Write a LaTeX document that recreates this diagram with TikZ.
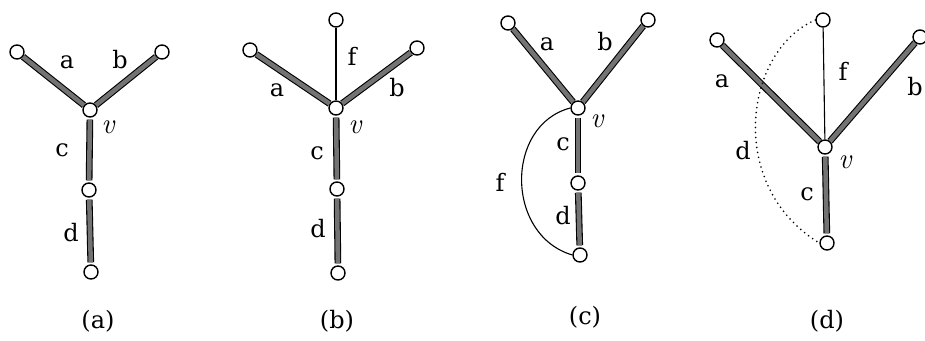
\documentclass[tikz,border=0pt]{standalone}
\usepackage{fontspec}
\setmainfont{DejaVu Serif}
\newfontfamily\lmfont{Latin Modern Roman}
\begin{document}
\begin{tikzpicture}[x=1pt,y=-1pt,
  vtx/.style={circle,draw=black,fill=white,line width=1.4pt,minimum size=14pt,inner sep=0pt},
  heavy/.style={draw=black,line width=1.1pt,double=black!55,double distance=4.5pt},
  light/.style={draw=black,line width=1.1pt},
  dotedge/.style={draw=black,line width=1.8pt,dash pattern=on 0pt off 5pt,line cap=round},
  lab/.style={font=\fontsize{24}{27}\selectfont,inner sep=0pt},
  vlab/.style={font=\lmfont\itshape\fontsize{29}{32}\selectfont,inner sep=0pt},
  gap/.style={shorten <=2pt,shorten >=2pt}]
\useasboundingbox (0,0) rectangle (925,340);
% (a)
\node[vtx] (a1) at (17,52) {};
\node[vtx] (a2) at (162,52) {};
\node[vtx] (av) at (90,110) {};
\node[vtx] (am) at (89,190) {};
\node[vtx] (ab) at (91,272) {};
\draw[heavy] (a1) -- (av);
\draw[heavy] (a2) -- (av);
\draw[heavy,gap] (av) -- (am);
\draw[heavy,gap] (am) -- (ab);
\node[lab] (la) at (67,62) {a};
\node[lab] (lb) at (120,60) {b};
\node[vlab] (lv) at (108,127) {v};
\node[lab] (lc) at (62,150) {c};
\node[lab] (ld) at (71,233) {d};
\node[lab] (ca) at (98,321) {(a)};
% (b)
\node[vtx] (bt) at (336,20) {};
\node[vtx] (b1) at (250,50) {};
\node[vtx] (b2) at (417,48) {};
\node[vtx] (bv) at (336,108) {};
\node[vtx] (bm) at (337,189) {};
\node[vtx] (bb) at (338,273) {};
\draw[light] (bt) -- (bv);
\draw[heavy] (b1) -- (bv);
\draw[heavy] (b2) -- (bv);
\draw[heavy,gap] (bv) -- (bm);
\draw[heavy,gap] (bm) -- (bb);
\node[lab] (lbf) at (352,56) {f};
\node[lab] (lba) at (277,90) {a};
\node[lab] (lbb) at (397,88) {b};
\node[vlab] (lbv) at (355,127) {v};
\node[lab] (lbc) at (317,153) {c};
\node[lab] (lbd) at (318,229) {d};
\node[lab] (cb) at (337,321) {(b)};
% (c)
\node[vtx] (c1) at (508,23) {};
\node[vtx] (c2) at (648,20) {};
\node[vtx] (cv) at (578,108) {};
\node[vtx] (cm) at (578,183) {};
\node[vtx] (cb2) at (580,255) {};
\draw[heavy] (c1) -- (cv);
\draw[heavy] (c2) -- (cv);
\draw[heavy,gap] (cv) -- (cm);
\draw[heavy,gap] (cm) -- (cb2);
\draw[light] (cv.west) .. controls (505,125) and (505,235) .. (cb2.west);
\node[lab] (lca) at (547,44) {a};
\node[lab] (lcb) at (605,42) {b};
\node[vlab] (lcv) at (597,121) {v};
\node[lab] (lcc) at (563,144) {c};
\node[lab] (lcf) at (500,182) {f};
\node[lab] (lcd) at (563,216) {d};
\node[lab] (cc) at (585,317) {(c)};
% (d)
\node[vtx] (dt) at (823,20) {};
\node[vtx] (d1) at (717,40) {};
\node[vtx] (d2) at (920,37) {};
\node[vtx] (dv) at (825,147) {};
\node[vtx] (db) at (827,243) {};
\draw[light] (dt) -- (dv);
\draw[heavy] (d1) -- (dv);
\draw[heavy] (d2) -- (dv);
\draw[heavy,gap] (dv) -- (db);
\draw[dotedge] (dt.west) .. controls (745,50) and (725,185) .. (db.west);
\node[lab] (lda) at (722,81) {a};
\node[lab] (ldf) at (843,71) {f};
\node[lab] (ldb) at (915,87) {b};
\node[lab] (ldd) at (743,151) {d};
\node[vlab] (ldv) at (845,162) {v};
\node[lab] (ldc) at (807,194) {c};
\node[lab] (cd) at (827,321) {(d)};
\end{tikzpicture}
\end{document}
